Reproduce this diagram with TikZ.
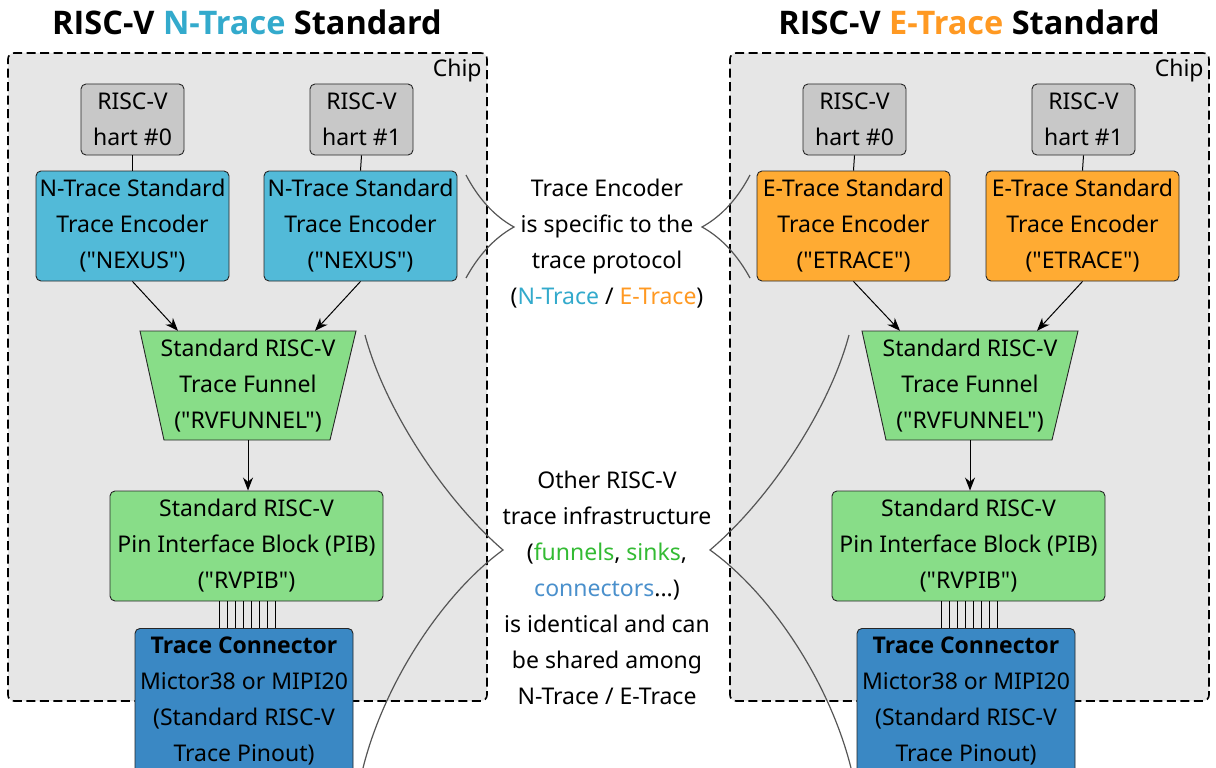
\documentclass[tikz,border=0pt]{standalone}
\usepackage{fontspec}
\setmainfont{Noto Sans}[Ligatures=TeXOff]
\newfontfamily\boldfam{Open Sans}[Ligatures=TeXOff]
\usetikzlibrary{arrows.meta,calc}
\definecolor{chipgray}{HTML}{E6E6E6}
\definecolor{hartgray}{HTML}{C8C8C8}
\definecolor{ncyan}{HTML}{52BAD8}
\definecolor{eorange}{HTML}{FFAB33}
\definecolor{pgreen}{HTML}{88DD88}
\definecolor{connblue}{HTML}{3A88C4}
\definecolor{ntext}{HTML}{33AACC}
\definecolor{etext}{HTML}{FF9922}
\definecolor{gtext}{HTML}{33BB33}
\definecolor{btext}{HTML}{4A90CC}
\definecolor{curvecol}{HTML}{555555}
\newcommand{\bodyfont}{\fontsize{23}{36}\selectfont}
\newcommand{\titlefont}{\fontsize{32.5}{36}\selectfont\boldfam\bfseries}
\newcommand{\heavy}[1]{{\boldfam\bfseries #1}}
\begin{document}
\begin{tikzpicture}[x=1pt,y=-1pt,
  box/.style={draw=black!85, line width=0.9pt, rounded corners=5pt, align=center, font=\bodyfont, inner sep=0pt},
  hartbox/.style={box, fill=hartgray, minimum width=103pt, minimum height=71pt},
  nenc/.style={box, fill=ncyan, minimum width=193pt, minimum height=110pt},
  eenc/.style={box, fill=eorange, minimum width=193pt, minimum height=110pt},
  pibbox/.style={box, fill=pgreen, minimum width=273pt, minimum height=110pt},
  connbox/.style={box, fill=connblue, minimum width=218pt, minimum height=170pt, anchor=north},
  txt/.style={align=center, font=\bodyfont, inner sep=0pt},
  funnelshape/.style={draw=black!85, line width=0.9pt, fill=pgreen},
  chipbox/.style={draw=black, line width=1.6pt, dash pattern=on 9pt off 4.5pt, rounded corners=6pt, fill=chipgray, minimum width=479pt, minimum height=648pt, inner sep=0pt},
  titlenode/.style={font=\titlefont, inner sep=0pt},
  link/.style={draw=black, line width=1pt},
  arr/.style={draw=black, line width=1pt, -{Stealth[length=13pt,width=10pt]}},
  pin/.style={draw=black, line width=0.9pt},
  brace/.style={draw=curvecol, line width=1.2pt}
]
\useasboundingbox (0,0) rectangle (1216,768);
\clip (0,0) rectangle (1216,768);
\fill[white] (0,0) rectangle (1216,768);

% titles
\node[titlenode] (titleL) at (247,22) {RISC-V \textcolor{ntext}{N-Trace} Standard};
\node[titlenode] (titleR) at (969,22) {RISC-V \textcolor{etext}{E-Trace} Standard};

% chips
\node[chipbox] (chipL) at (247.5,377) {};
\node[chipbox] (chipR) at (969.5,377) {};
\node[txt, anchor=north east] (chipLlab) at ([xshift=-6pt,yshift=-7pt]chipL.north east) {Chip};
\node[txt, anchor=north east] (chipRlab) at ([xshift=-6pt,yshift=-7pt]chipR.north east) {Chip};

% ===== left side =====
\node[hartbox] (h0L) at (132.5,119.5) {RISC-V\\hart \#0};
\node[hartbox] (h1L) at (361.5,119.5) {RISC-V\\hart \#1};
\node[nenc] (e0L) at (132.5,226) {N-Trace Standard\\Trace Encoder\\("NEXUS")};
\node[nenc] (e1L) at (360.5,226) {N-Trace Standard\\Trace Encoder\\("NEXUS")};
\draw[funnelshape] (140,331) -- (356,331) -- (330,440) -- (164,440) -- cycle;
\node[txt, minimum width=216pt, minimum height=109pt] (fL) at (248,385.5) {Standard RISC-V\\Trace Funnel\\("RVFUNNEL")};
\node[pibbox] (pL) at (246.5,546) {Standard RISC-V\\Pin Interface Block (PIB)\\("RVPIB")};
\node[connbox] (cL) at (244,628) {};
\node[txt, anchor=north] (cLt) at (244,637) {\heavy{Trace Connector}\\Mictor38 or MIPI20\\(Standard RISC-V\\Trace Pinout)};

\draw[link] (h0L.south) -- (e0L.north);
\draw[link] (h1L.south) -- (e1L.north);
\draw[arr] (e0L.south) -- ([xshift=-70pt]fL.north);
\draw[arr] (e1L.south) -- ([xshift=67pt]fL.north);
\draw[arr] (fL.south) -- (pL.north -| fL.south);
\foreach \i in {0,...,7} {
  \draw[pin] ([xshift={-27pt+8pt*\i}]pL.south) -- ([xshift={-27pt+8pt*\i}]pL.south |- cL.north);
}

% ===== right side =====
\node[hartbox] (h0R) at (854.5,119.5) {RISC-V\\hart \#0};
\node[hartbox] (h1R) at (1083.5,119.5) {RISC-V\\hart \#1};
\node[eenc] (e0R) at (853.5,226) {E-Trace Standard\\Trace Encoder\\("ETRACE")};
\node[eenc] (e1R) at (1082.5,226) {E-Trace Standard\\Trace Encoder\\("ETRACE")};
\draw[funnelshape] (862,331) -- (1078,331) -- (1052,440) -- (886,440) -- cycle;
\node[txt, minimum width=216pt, minimum height=109pt] (fR) at (970,385.5) {Standard RISC-V\\Trace Funnel\\("RVFUNNEL")};
\node[pibbox] (pR) at (968.5,546) {Standard RISC-V\\Pin Interface Block (PIB)\\("RVPIB")};
\node[connbox] (cR) at (966,628) {};
\node[txt, anchor=north] (cRt) at (966,637) {\heavy{Trace Connector}\\Mictor38 or MIPI20\\(Standard RISC-V\\Trace Pinout)};

\draw[link] (h0R.south) -- (e0R.north);
\draw[link] (h1R.south) -- (e1R.north);
\draw[arr] (e0R.south) -- ([xshift=-70pt]fR.north);
\draw[arr] (e1R.south) -- ([xshift=67pt]fR.north);
\draw[arr] (fR.south) -- (pR.north -| fR.south);
\foreach \i in {0,...,7} {
  \draw[pin] ([xshift={-27pt+8pt*\i}]pR.south) -- ([xshift={-27pt+8pt*\i}]pR.south |- cR.north);
}

% ===== middle notes =====
\node[txt] (noteA) at (607,244) {Trace Encoder\\is specific to the\\trace protocol\\(\textcolor{ntext}{N-Trace} / \textcolor{etext}{E-Trace})};
\node[txt] (noteB) at (607,588) {Other RISC-V\\trace infrastructure\\(\textcolor{gtext}{funnels}, \textcolor{gtext}{sinks},\\\textcolor{btext}{connectors}...)\\is identical and can\\be shared among\\N-Trace / E-Trace};

% braces
\coordinate (tAL) at (514,227);
\coordinate (tAR) at (702,227);
\coordinate (tBL) at (503,550);
\coordinate (tBR) at (710,550);
\draw[brace] (466,175) .. controls (478,198) and (494,216) .. (tAL) .. controls (494,238) and (478,256) .. (466,278);
\draw[brace] (750,175) .. controls (738,198) and (722,216) .. (tAR) .. controls (722,238) and (738,256) .. (750,278);
\draw[brace] (365,335) .. controls (385,410) and (445,500) .. (tBL) .. controls (445,592) and (385,680) .. (363,768);
\draw[brace] (849,335) .. controls (829,410) and (769,500) .. (tBR) .. controls (769,592) and (829,680) .. (851,768);
\end{tikzpicture}
\end{document}
